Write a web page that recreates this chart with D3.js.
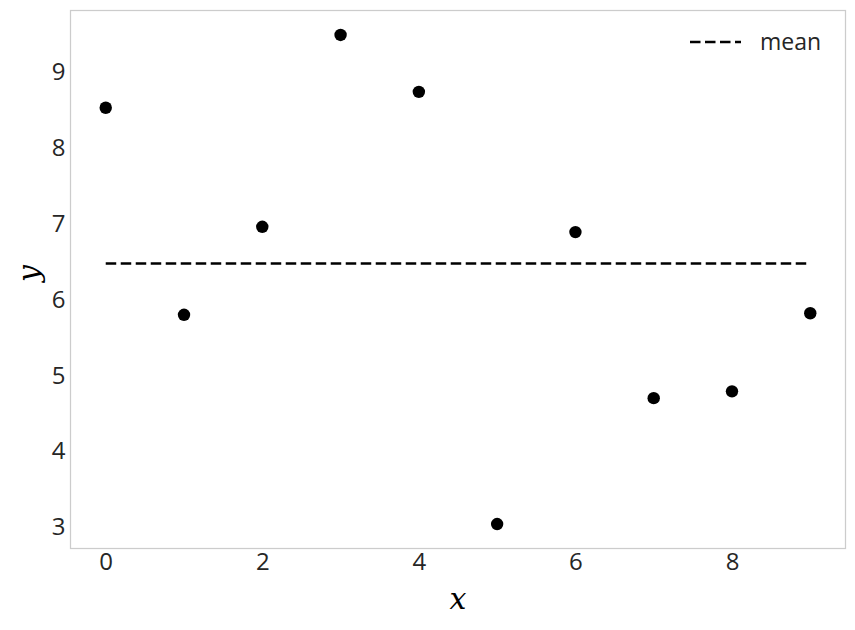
<!DOCTYPE html>
<html>
<head>
<meta charset="utf-8">
<script src="https://cdn.jsdelivr.net/npm/d3@7"></script>
<style>
  body { margin: 0; background: #fff; }
  .tick text { font-family: 'Open Sans', 'Noto Sans', sans-serif; font-size: 24px; fill: #262626; }
</style>
</head>
<body>
<svg id="chart" width="855" height="630"></svg>
<script>
const xValues = [0, 1, 2, 3, 4, 5, 6, 7, 8, 9]
const yValues = [8.53, 5.80, 6.96, 9.49, 8.74, 3.04, 6.89, 4.70, 4.79, 5.82]
const xTicks = [0, 2, 4, 6, 8]
const yTicks = [3, 4, 5, 6, 7, 8, 9]

const meanY = d3.mean(yValues)

const plotLeft = 70.5
const plotRight = 845.5
const plotTop = 10.5
const plotBottom = 548.5

const svg = d3.select('#chart')

const xPad = (d3.max(xValues) - d3.min(xValues)) * 0.05
const yPad = (d3.max(yValues) - d3.min(yValues)) * 0.05

const x = d3.scaleLinear()
  .domain([d3.min(xValues) - xPad, d3.max(xValues) + xPad])
  .range([plotLeft, plotRight])

const y = d3.scaleLinear()
  .domain([d3.min(yValues) - yPad, d3.max(yValues) + yPad])
  .range([plotBottom, plotTop])

// axes without tick lines
svg.append('g')
  .attr('transform', `translate(0,${plotBottom})`)
  .call(d3.axisBottom(x).tickValues(xTicks).tickSize(0).tickPadding(4).tickFormat(d3.format('d')))
  .call(g => g.select('.domain').remove())

svg.append('g')
  .attr('transform', `translate(${plotLeft},0)`)
  .call(d3.axisLeft(y).tickValues(yTicks).tickSize(0).tickPadding(5).tickFormat(d3.format('d')))
  .call(g => g.select('.domain').remove())

// frame
svg.append('rect')
  .attr('x', plotLeft)
  .attr('y', plotTop)
  .attr('width', plotRight - plotLeft)
  .attr('height', plotBottom - plotTop)
  .attr('fill', 'none')
  .attr('stroke', '#cccccc')
  .attr('stroke-width', 1.25)

// mean line
svg.append('line')
  .attr('x1', x(d3.min(xValues)))
  .attr('x2', x(d3.max(xValues)))
  .attr('y1', y(meanY))
  .attr('y2', y(meanY))
  .attr('stroke', 'black')
  .attr('stroke-width', 2.7)
  .attr('stroke-dasharray', '10.5,4.5')

// points
svg.append('g')
  .selectAll('circle')
  .data(xValues)
  .enter().append('circle')
  .attr('cx', (d) => x(d))
  .attr('cy', (d, i) => y(yValues[i]))
  .attr('r', 6.2)
  .attr('fill', 'black')

// axis labels
svg.append('text')
  .attr('x', (plotLeft + plotRight) / 2)
  .attr('y', 609)
  .attr('text-anchor', 'middle')
  .attr('font-family', 'DejaVu Serif, serif')
  .attr('font-style', 'italic')
  .attr('font-size', 30)
  .text('x')

svg.append('text')
  .attr('transform', `translate(39,${(plotTop + plotBottom) / 2 - 6}) rotate(-90)`)
  .attr('text-anchor', 'middle')
  .attr('font-family', 'DejaVu Serif, serif')
  .attr('font-style', 'italic')
  .attr('font-size', 30)
  .text('y')

// legend
const legend = svg.append('g').attr('transform', 'translate(690,42)')
legend.append('line')
  .attr('x1', 0)
  .attr('x2', 51)
  .attr('stroke', 'black')
  .attr('stroke-width', 2.7)
  .attr('stroke-dasharray', '10.5,4.5')
legend.append('text')
  .attr('x', 70)
  .attr('dy', '0.35em')
  .attr('font-family', 'Open Sans, Noto Sans, sans-serif')
  .attr('font-size', 23)
  .attr('fill', '#262626')
  .text('mean')
</script>
</body>
</html>
